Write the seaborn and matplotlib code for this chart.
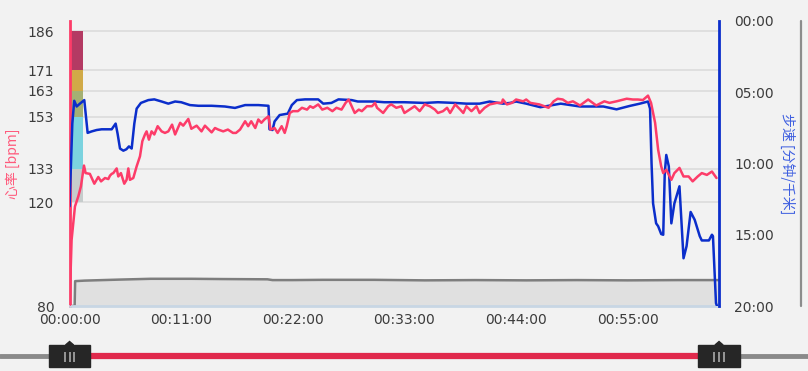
import matplotlib
matplotlib.use('Agg')
import matplotlib.pyplot as plt
import pandas as pd
import seaborn as sns
from matplotlib.patches import Rectangle, Polygon
from matplotlib.lines import Line2D

# ---- data (minutes from start) ----
hr_min = [0.0, 0.2, 0.53, 0.86, 1.12, 1.42, 1.58, 2.0, 2.44, 2.83, 3.1, 3.49, 3.82, 3.98,
          4.15, 4.31, 4.64, 4.8, 5.06, 5.39, 5.62, 5.79, 5.95, 6.28, 6.61, 6.94, 7.17, 7.43,
          7.59, 7.82, 8.08, 8.35, 8.68, 9.07, 9.4, 9.73, 10.1, 10.4, 10.9, 11.2, 11.7, 12.0,
          12.52, 13.0, 13.34, 14.0, 14.33, 14.65, 15.14, 15.6, 16.1, 16.4, 16.8, 17.3, 17.6,
          17.9, 18.3, 18.6, 18.9, 19.2, 19.6, 19.8, 20.2, 20.5, 20.9, 21.2, 21.4, 21.7, 22.0,
          22.5, 22.9, 23.4, 23.7, 24.0, 24.5, 24.9, 25.4, 25.9, 26.3, 26.8, 27.2, 27.5, 27.8,
          28.1, 28.5, 28.8, 29.3, 29.8, 30.1, 30.3, 30.9, 31.4, 31.7, 32.2, 32.7, 33.0, 33.5,
          34.0, 34.5, 35.0, 35.5, 36.0, 36.3, 36.8, 37.2, 37.5, 38.0, 38.5, 38.8, 39.1, 39.6,
          40.1, 40.4, 40.9, 41.4, 42.1, 42.6, 42.7, 43.1, 43.6, 44.0, 44.7, 45.0, 45.4, 46.3,
          47.2, 47.7, 48.1, 48.6, 49.1, 49.6, 50.3, 51.1, 51.9, 52.7, 53.2, 53.9, 54.9, 55.5,
          56.0, 56.5, 57.0, 57.3, 57.7, 58.0, 58.3, 58.5, 58.8, 59.3, 59.6, 60.1, 60.5, 61.0,
          61.4, 61.9, 62.3, 62.8, 63.3, 63.75]
hr_bpm = [80, 105.5, 118.4, 122.3, 126.2, 134.2, 131.3, 131.0, 127.2, 129.8, 128.1, 129.4, 129.0, 130.3,
          131.0, 131.3, 133.1, 130.0, 131.3, 127.2, 128.7, 133.1, 128.7, 129.4, 133.9, 137.8, 143.6, 146.2,
          147.4, 144.2, 147.4, 146.2, 149.4, 147.4, 146.8, 147.4, 150.0, 146.2, 150.7, 149.6, 152.2, 148.4,
          149.6, 147.4, 149.6, 147.0, 148.7, 148.1, 147.4, 148.1, 146.8, 146.8, 148.1, 151.3, 149.4,
          151.3, 148.7, 152.0, 150.7, 152.0, 153.2, 148.1, 148.7, 146.8, 149.4, 146.8, 149.4, 154.5, 155.2,
          155.2, 156.5, 155.8, 157.1, 156.5, 157.8, 155.8, 156.5, 155.2, 156.5, 155.8, 158.4, 159.7, 157.1,
          154.5, 155.8, 155.2, 157.1, 157.1, 158.4, 156.5, 154.5, 157.1, 157.8, 156.5, 157.1, 154.5, 155.8,
          157.1, 155.2, 157.8, 157.1, 155.8, 154.5, 155.2, 156.5, 154.5, 157.8, 155.8, 154.5, 157.1, 155.2,
          157.1, 154.5, 156.5, 157.8, 158.4, 158.4, 159.7, 157.8, 158.4, 159.7, 159.0, 159.7, 158.4, 157.8,
          156.5, 159.0, 160.0, 159.7, 158.4, 159.0, 157.4, 159.7, 157.4, 159.0, 158.4, 159.0, 160.0, 159.7,
          159.7, 159.5, 161.2, 158.4, 150.7, 140.3, 133.9, 131.3, 132.6, 128.7, 131.3, 133.3, 130.0, 130.0,
          128.1, 130.0, 131.3, 130.6, 131.9, 129.4]

pace_min = [0.0, 0.27, 0.46, 0.7, 1.02, 1.45, 1.78, 2.17, 2.67, 3.16, 4.15, 4.54, 4.73, 4.97, 5.3,
            5.6, 5.85, 6.12, 6.38, 6.61, 7.03, 7.76, 8.35, 9.07, 9.73, 10.4, 11.0, 11.86, 12.7, 14.0,
            15.3, 16.3, 17.3, 18.6, 19.6, 19.7, 20.0, 20.2, 20.7, 21.5, 21.9, 22.4, 23.2, 24.5, 25.0,
            25.8, 26.5, 27.8, 28.4, 30.1, 31.0, 33.0, 35.0, 36.3, 38.0, 39.1, 40.4, 41.4, 42.7, 43.4,
            44.0, 45.0, 46.4, 48.4, 50.3, 52.6, 53.9, 55.2, 56.2, 57.0, 57.2, 57.35, 57.5, 57.8, 58.0,
            58.3, 58.5, 58.65, 58.8, 59.05, 59.3, 59.6, 60.1, 60.5, 60.8, 61.2, 61.6, 62.1, 62.3, 63.0,
            63.3, 63.4, 63.7, 63.8]
pace_mpk = [13.0, 7.2, 5.6, 6.0, 5.8, 5.55, 7.85, 7.75, 7.65, 7.6, 7.6, 7.2, 7.9, 8.95, 9.1,
            9.0, 8.8, 8.95, 7.2, 6.15, 5.75, 5.55, 5.5, 5.65, 5.8, 5.65, 5.7, 5.9, 5.95, 5.95,
            6.0, 6.1, 5.9, 5.9, 5.95, 7.6, 7.65, 7.05, 6.6, 6.5, 5.9, 5.55, 5.5, 5.5, 5.8,
            5.75, 5.5, 5.55, 5.65, 5.65, 5.7, 5.7, 5.75, 5.7, 5.75, 5.8, 5.8, 5.65, 5.8, 5.75,
            5.65, 5.8, 6.05, 5.8, 6.0, 6.0, 6.2, 5.96, 5.8, 5.65, 6.15, 10.0, 12.8, 14.2, 14.4,
            14.95, 15.0, 10.7, 9.4, 10.2, 14.2, 12.8, 11.6, 16.65, 15.8, 13.4, 13.95, 15.1, 15.4, 15.4,
            15.0, 15.1, 19.8, 20.0]

base_min = [0.0, 0.5, 0.55, 1.5, 5.0, 8.0, 12.0, 15.0, 19.5, 20.0, 22.0, 25.0, 30.0, 35.0,
            40.0, 45.0, 50.0, 55.0, 60.0, 64.0]
base_val = [80, 80, 89.6, 89.8, 90.2, 90.5, 90.5, 90.4, 90.3, 90.0, 90.0, 90.1, 90.1, 89.9,
            90.0, 89.9, 90.0, 89.9, 90.0, 90.0]

zone_lo = [120, 133, 153, 163, 171]
zone_hi = [133, 153, 163, 171, 186]
zone_colors = ['#c6cccc', '#7bd3df', '#a4b073', '#d1aa47', '#b43a63']

hr_ticks = [80, 120, 133, 153, 163, 171, 186]
pace_ticks = [0, 5, 10, 15, 20]
time_ticks = [0, 11, 22, 33, 44, 55]
x_end = 64

hr_df = pd.DataFrame({'t': hr_min, 'hr': hr_bpm})
pace_df = pd.DataFrame({'t': pace_min, 'pace': pace_mpk})
base_df = pd.DataFrame({'t': base_min, 'v': base_val})

# ---- style ----
bg = '#f2f2f2'
red = '#fd3c69'
blue = '#0b2ecb'
sns.set_theme(style='white', rc={'axes.facecolor': bg, 'figure.facecolor': bg})
plt.rcParams['font.family'] = ['DejaVu Sans', 'Noto Sans CJK SC']
cjk = ['Noto Sans CJK SC', 'DejaVu Sans']

fig = plt.figure(figsize=(8.08, 3.71), dpi=100)
pos = [0.0861, 0.1752, 0.8038, 0.7682]
ax = fig.add_axes(pos)
ax_p = ax.twinx()
ax_h = ax.twinx()

# background layer: grid, zones, bottom area
for y in hr_ticks[1:]:
    ax.axhline(y, color='#dadada', lw=1.1, zorder=0)
ax.bar([0] * len(zone_lo), [h - l for l, h in zip(zone_lo, zone_hi)], bottom=zone_lo,
       width=1.3, align='edge', color=zone_colors, linewidth=0, zorder=1)
ax.fill_between(base_df.t, 80, base_df.v, color='#e0e0e0', lw=0, zorder=1)
sns.lineplot(data=base_df, x='t', y='v', ax=ax, color='#7e7e7e', lw=1.8, zorder=2)

ax.set_xlim(0, x_end)
ax.set_ylim(80, 190)
ax.set_xticks(time_ticks)
ax.set_xticklabels([f'{m // 60:02d}:{m % 60:02d}:00' for m in time_ticks])
ax.set_yticks(hr_ticks)
ax.set_yticklabels([str(v) for v in hr_ticks])
ax.tick_params(axis='y', length=0, pad=11, labelsize=10, colors='#3c3c3c')
ax.tick_params(axis='x', length=0, pad=5, labelsize=10, colors='#3c3c3c')
ax.set_xlabel('')
ax.set_ylabel('心率 [bpm]', color='#ff5a7c', fontsize=10, family=cjk)
ax.yaxis.set_label_coords(-0.077, 0.5)
for s in ['top', 'right']:
    ax.spines[s].set_visible(False)
ax.spines['left'].set_color(red)
ax.spines['left'].set_linewidth(2)
ax.spines['bottom'].set_color('#c8d6e4')
ax.spines['bottom'].set_linewidth(2)

# pace on the right axis
sns.lineplot(data=pace_df, x='t', y='pace', ax=ax_p, color=blue, lw=1.8)
ax_p.set_ylim(20, 0)
ax_p.set_yticks(pace_ticks)
ax_p.set_yticklabels([f'{p:02d}:00' for p in pace_ticks])
ax_p.tick_params(axis='y', length=0, pad=11, labelsize=10, colors='#3c3c3c')
ax_p.set_ylabel('步速 [分钟/千米]', color='#3d5ee0', fontsize=10, family=cjk, rotation=-90)
ax_p.yaxis.set_label_coords(1.117, 0.5)
for s in ['top', 'left', 'bottom']:
    ax_p.spines[s].set_visible(False)
ax_p.spines['right'].set_color(blue)
ax_p.spines['right'].set_linewidth(2)

# heart rate on top
sns.lineplot(data=hr_df, x='t', y='hr', ax=ax_h, color=red, lw=1.8)
ax_h.set_ylim(80, 190)
ax_h.set_yticks([])
ax_h.set_ylabel('')
for s in ax_h.spines.values():
    s.set_visible(False)
ax_h.set_xlim(0, x_end)

# scrollbar line at the far right
fig.add_artist(Line2D([801 / 808, 801 / 808], [pos[1], pos[1] + pos[3]],
                      color='#8c8c8c', lw=1.6))

# range slider below, aligned with the time axis
per = x_end / pos[2]
sl = fig.add_axes([0, 0, 1, 40 / 371])
sl.set_xlim(-pos[0] * per, x_end + (1 - pos[0] - pos[2]) * per)
sl.set_ylim(0, 40)
sl.axis('off')
hw = 2.05
sl.axhline(15, color='#8a8a8a', lw=3.5, zorder=1)
sl.plot([hw, x_end - hw], [15, 15], color='#e0294c', lw=4.5, solid_capstyle='butt', zorder=2)
for t in (0, x_end):
    sl.add_patch(Rectangle((t - hw, 4), 2 * hw, 22, color='#262626', zorder=3))
    sl.add_patch(Polygon([(t - 0.4, 26), (t + 0.4, 26), (t, 29.5)], color='#262626', zorder=3))
    sl.vlines([t - 0.45, t, t + 0.45], 9, 19, color='#b5b5b5', lw=1.1, zorder=4)

fig.savefig('out.png', dpi=100, facecolor=bg)
